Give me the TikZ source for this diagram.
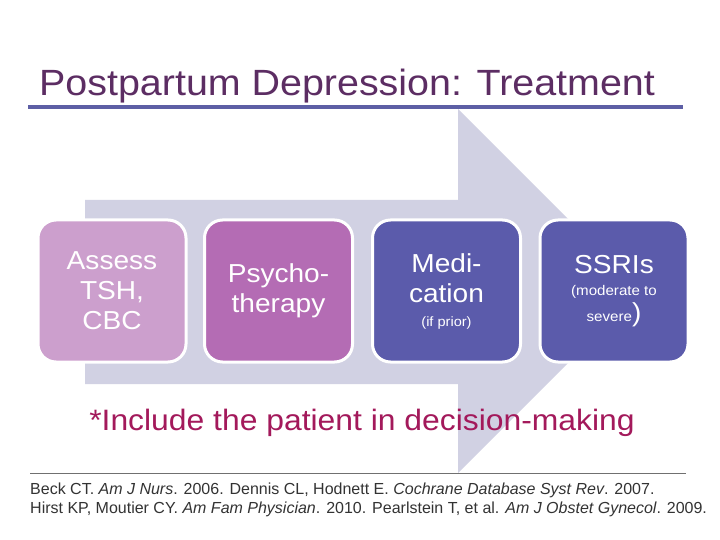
\documentclass[tikz,border=0pt]{standalone}
\usepackage{fontspec}
\setmainfont{Liberation Sans}[FakeStretch=1.08]
\newfontfamily\reffont{Liberation Sans}
\usepackage{tikz}
\usetikzlibrary{positioning,calc}
\definecolor{arrowfill}{HTML}{D1D1E3}
\definecolor{titlecol}{HTML}{5C2D63}
\definecolor{rulecol}{HTML}{5D5FA5}
\definecolor{stepA}{HTML}{CC9FCD}
\definecolor{stepB}{HTML}{B46CB4}
\definecolor{stepC}{HTML}{5B5BAB}
\definecolor{notecol}{HTML}{A3195B}
\definecolor{refcol}{HTML}{333333}
\begin{document}
\begin{tikzpicture}[
    x=1pt,y=-1pt,
    stepbox/.style={draw=white,line width=3pt,rounded corners=18pt,minimum width=148pt,minimum height=142pt,
      align=center,text=white,inner sep=2pt,font=\fontsize{26}{30}\selectfont},
  ]
  \useasboundingbox (0,0) rectangle (720,540);
  \fill[white] (0,0) rectangle (720,540);
  % big process arrow behind the steps
  \fill[arrowfill] (85,200) -- (458,200) -- (458,109) -- (640,291) -- (458,473) -- (458,384) -- (85,384) -- cycle;
  % title
  \node[anchor=base west,inner sep=0pt,text=titlecol,font=\fontsize{36.5}{40}\selectfont] (title) at (39,96) {Postpartum Depression: Treatment};
  \draw[rulecol,line width=4pt] (28,107) -- (683,107);
  % steps
  \node[stepbox,fill=stepA] (assess) at (112,291) {Assess\\TSH,\\CBC};
  \node[stepbox,fill=stepB] (psycho) at (278.5,291) {\raisebox{-3pt}{Psycho-}\\\raisebox{-3pt}{therapy}};
  \node[stepbox,fill=stepC] (medic) at (446.5,291) {\raisebox{-4pt}{Medi-}\\\raisebox{-4pt}{cation}\\[-6pt]\raisebox{-4pt}{\fontsize{13.5}{16}\selectfont (if prior)}};
  \node[stepbox,fill=stepC] (ssri) at (614,291) {\raisebox{-3pt}{SSRIs}\\[-8pt]\raisebox{-3pt}{\fontsize{14}{16}\selectfont (moderate to}\\[-4pt]\raisebox{-3pt}{{\fontsize{14}{16}\selectfont severe})}};
  % note
  \node[anchor=base,inner sep=0pt,text=notecol,font=\fontsize{29.5}{32}\selectfont] (note) at (362,430) {*Include the patient in decision-making};
  % references
  \draw[refcol!70,line width=0.6pt] (30,473) -- (686,473);
  \node[anchor=base west,inner sep=0pt,align=left,text=refcol,font=\reffont\fontsize{16}{19}\selectfont] (refs) at (30,513)
    {Beck CT. \textit{Am J Nurs}. 2006. Dennis CL, Hodnett E. \textit{Cochrane Database Syst Rev}. 2007.\\
     Hirst KP, Moutier CY. \textit{Am Fam Physician}. 2010. Pearlstein T, et al. \textit{Am J Obstet Gynecol}. 2009.};
\end{tikzpicture}
\end{document}
